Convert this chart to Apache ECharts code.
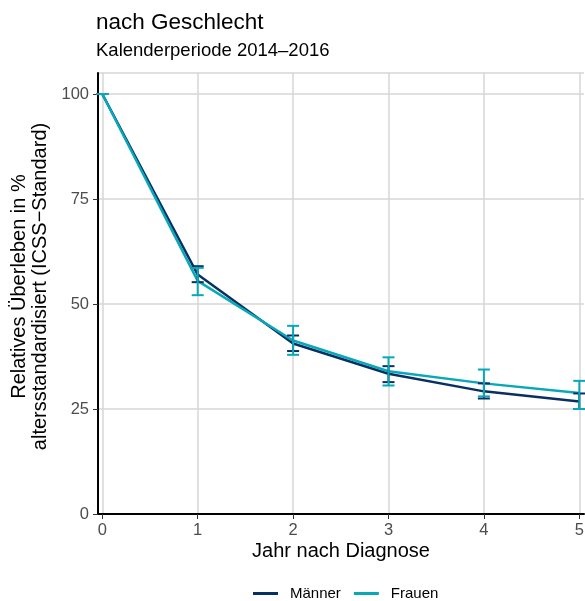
<!DOCTYPE html>
<html>
<head>
<meta charset="utf-8">
<script src="https://cdn.jsdelivr.net/npm/echarts@6/dist/echarts.min.js"></script>
<style>html,body{margin:0;padding:0;background:#fff}#c{width:585px;height:601px}</style>
</head>
<body>
<div id="c"></div>
<script>
const years = [0, 1, 2, 3, 4, 5];
const maennerValues = [100, 57.0, 40.6, 33.4, 29.2, 26.8];
const maennerLower = [100, 55.2, 38.8, 31.4, 27.5, 25.0];
const maennerUpper = [100, 59.0, 42.5, 35.2, 31.1, 28.7];
const frauenValues = [100, 55.5, 41.3, 34.0, 31.1, 28.8];
const frauenLower = [100, 52.1, 37.9, 30.6, 28.0, 25.0];
const frauenUpper = [100, 58.6, 44.8, 37.3, 34.4, 31.7];
const NAVY = '#0a2f62';
const TEAL = '#07a9b9';
const FONT = '"Liberation Sans", Arial, sans-serif';

function errData(lo, hi) { return years.map((x, i) => [x, lo[i], hi[i]]); }
function errSeries(name, color, lo, hi, z) {
  return {
    type: 'custom', name: name, z: z, silent: true,
    xAxisIndex: 1, yAxisIndex: 1,
    data: errData(lo, hi),
    encode: { x: 0, y: [1, 2] },
    renderItem: function (params, api) {
      const x = api.value(0);
      const a = api.coord([x, api.value(1)]);
      const b = api.coord([x, api.value(2)]);
      const w = 6;
      const st = { stroke: color, lineWidth: 2 };
      return { type: 'group', children: [
        { type: 'line', shape: { x1: a[0], y1: a[1], x2: b[0], y2: b[1] }, style: st },
        { type: 'line', shape: { x1: a[0] - w, y1: a[1], x2: a[0] + w, y2: a[1] }, style: st },
        { type: 'line', shape: { x1: b[0] - w, y1: b[1], x2: b[0] + w, y2: b[1] }, style: st }
      ]};
    }
  };
}

const chart = echarts.init(document.getElementById('c'), null, { renderer: 'canvas' });
chart.setOption({
  animation: false,
  textStyle: { fontFamily: FONT },
  title: [
    { text: 'nach Geschlecht', left: 96, top: 11, padding: 0, textStyle: { fontFamily: FONT, fontSize: 22.5, fontWeight: 'normal', color: '#000' } },
    { text: 'Kalenderperiode 2014\u20132016', left: 96, top: 41, padding: 0, textStyle: { fontFamily: FONT, fontSize: 18.5, fontWeight: 'normal', color: '#000' } }
  ],
  legend: {
    left: 253, top: 586, itemWidth: 25, itemHeight: 3, itemGap: 13, padding: 0,
    icon: 'rect',
    textStyle: { fontFamily: FONT, fontSize: 15, color: '#000', padding: [0, 0, 0, 7] },
    data: ['Männer', 'Frauen']
  },
  grid: [
    { left: 98, right: 1, top: 73, bottom: 87, containLabel: false, outerBoundsMode: 'none' },
    { left: 102.3, right: 5.7, top: 73, bottom: 87, containLabel: false, outerBoundsMode: 'none' }
  ],
  xAxis: [
    {
      gridIndex: 0, type: 'value', min: 0, max: 1,
      name: 'Jahr nach Diagnose', nameLocation: 'middle', nameGap: 27,
      nameTextStyle: { fontFamily: FONT, fontSize: 20, color: '#000' },
      axisLine: { show: true, onZero: false, lineStyle: { color: '#000', width: 2 } },
      axisTick: { show: false }, axisLabel: { show: false }, splitLine: { show: false }
    },
    {
      gridIndex: 1, type: 'value', min: 0, max: 5, interval: 1,
      axisLine: { show: false, onZero: false },
      axisTick: { show: true, length: 5, lineStyle: { color: '#333', width: 1 } },
      axisLabel: { fontSize: 16.5, color: '#4d4d4d', margin: 8 },
      splitLine: { show: true, lineStyle: { color: '#d6d6d6', width: 1.5 } }
    }
  ],
  yAxis: [
    {
      gridIndex: 0, type: 'value', min: 0, max: 105, interval: 25,
      name: 'Relatives \u00dcberleben in %\naltersstandardisiert (ICSS\u2212Standard)',
      nameLocation: 'middle', nameGap: 38, nameRotate: 90,
      nameTextStyle: { fontFamily: FONT, fontSize: 20, color: '#000', lineHeight: 21, padding: [0, 0, 0, 14] },
      axisLine: { show: true, lineStyle: { color: '#000', width: 2 } },
      axisTick: { show: true, length: 5, lineStyle: { color: '#333', width: 1 } },
      axisLabel: { fontSize: 16.5, color: '#4d4d4d', margin: 9, showMaxLabel: false },
      splitLine: { show: true, lineStyle: { color: '#d6d6d6', width: 1.5 } }
    },
    {
      gridIndex: 1, type: 'value', min: 0, max: 105,
      axisLine: { show: false }, axisTick: { show: false }, axisLabel: { show: false }, splitLine: { show: false }
    }
  ],
  series: [
    { type: 'line', name: 'Männer', xAxisIndex: 1, yAxisIndex: 1, data: years.map((x, i) => [x, maennerValues[i]]), symbol: 'none', z: 3,
      lineStyle: { color: NAVY, width: 2.5 }, itemStyle: { color: NAVY } },
    { type: 'line', name: 'Frauen', xAxisIndex: 1, yAxisIndex: 1, data: years.map((x, i) => [x, frauenValues[i]]), symbol: 'none', z: 4,
      lineStyle: { color: TEAL, width: 2.5 }, itemStyle: { color: TEAL } },
    errSeries('Männer', NAVY, maennerLower, maennerUpper, 5),
    errSeries('Frauen', TEAL, frauenLower, frauenUpper, 6)
  ]
});
</script>
</body>
</html>
